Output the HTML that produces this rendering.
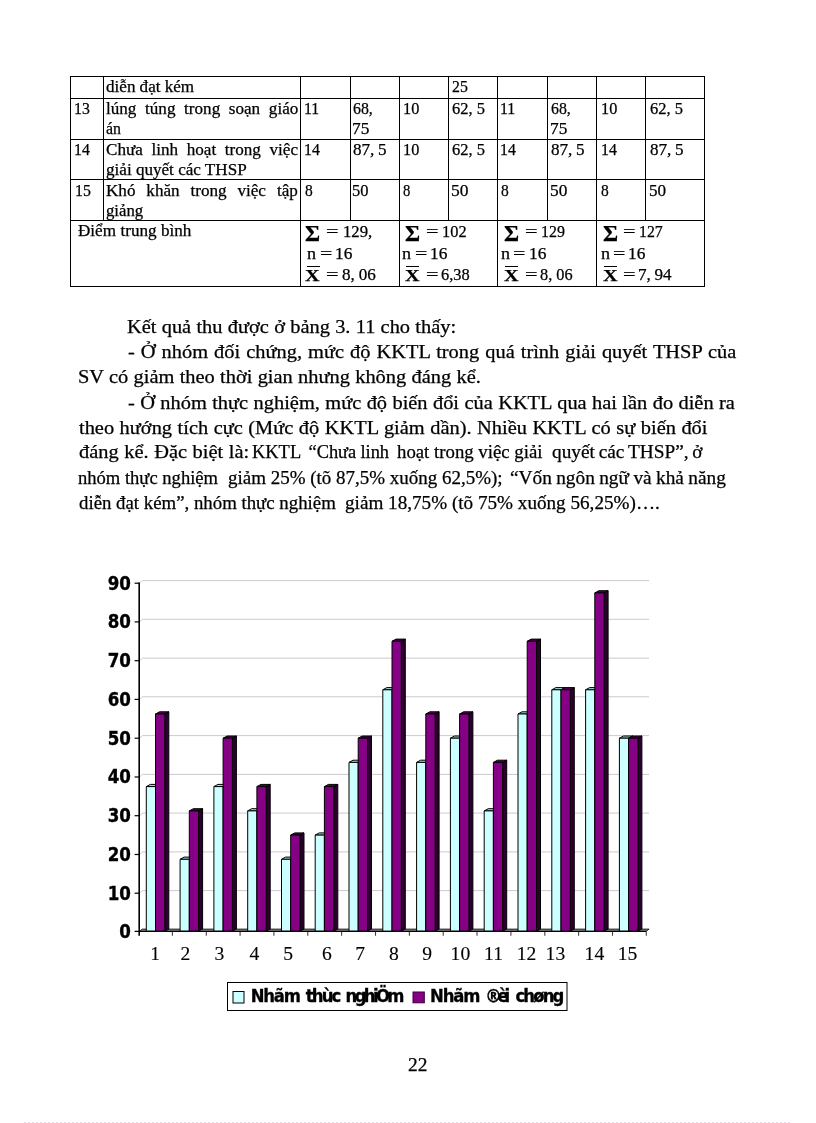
<!DOCTYPE html>
<html lang="vi">
<head>
<meta charset="utf-8">
<title>Trang 22</title>
<style>
html,body{margin:0;padding:0;background:#fff;}
body{width:816px;height:1123px;position:relative;overflow:hidden;font-family:"Liberation Serif", serif;color:#000;}
.t{position:absolute;white-space:pre;line-height:1;transform-origin:0 0;font-family:"Liberation Serif", serif;color:#000;-webkit-text-stroke:0.25px #000;}
.ln{position:absolute;background:#000;}
svg{position:absolute;left:0;top:0;}
</style>
</head>
<body>
<div id="tbl">
<div class="ln" style="left:70px;top:76px;width:635px;height:1px"></div>
<div class="ln" style="left:70px;top:98px;width:635px;height:1px"></div>
<div class="ln" style="left:70px;top:139px;width:635px;height:1px"></div>
<div class="ln" style="left:70px;top:179px;width:635px;height:1px"></div>
<div class="ln" style="left:70px;top:220px;width:635px;height:1px"></div>
<div class="ln" style="left:70px;top:286px;width:635px;height:1px"></div>
<div class="ln" style="left:70px;top:76px;width:1px;height:211px"></div>
<div class="ln" style="left:704px;top:76px;width:1px;height:211px"></div>
<div class="ln" style="left:103px;top:76px;width:1px;height:145px"></div>
<div class="ln" style="left:300px;top:76px;width:1px;height:211px"></div>
<div class="ln" style="left:399px;top:76px;width:1px;height:211px"></div>
<div class="ln" style="left:497px;top:76px;width:1px;height:211px"></div>
<div class="ln" style="left:596px;top:76px;width:1px;height:211px"></div>
<div class="ln" style="left:350px;top:76px;width:1px;height:145px"></div>
<div class="ln" style="left:448px;top:76px;width:1px;height:145px"></div>
<div class="ln" style="left:547px;top:76px;width:1px;height:145px"></div>
<div class="ln" style="left:645px;top:76px;width:1px;height:145px"></div>
<div class="ln" style="left:306.5px;top:266px;width:13.2px;height:1.2px"></div>
<div class="ln" style="left:406.1px;top:266px;width:13.2px;height:1.2px"></div>
<div class="ln" style="left:505.1px;top:266px;width:13.2px;height:1.2px"></div>
<div class="ln" style="left:604.0px;top:266px;width:13.2px;height:1.2px"></div>
</div>
<span class="t" style="left:106.00px;top:78.6px;font-size:16px;word-spacing:-0.09px;transform:scaleX(1.0680);">diễn đạt kém</span>
<span class="t" style="left:451.92px;top:78.6px;font-size:16px;transform:scaleX(0.9900);">25</span>
<span class="t" style="left:74.08px;top:100.5px;font-size:16px;transform:scaleX(0.9900);">13</span>
<span class="t" style="left:106.00px;top:100.5px;font-size:16px;word-spacing:4.12px;transform:scaleX(1.0680);">lúng túng trong soạn giáo</span>
<span class="t" style="left:105.90px;top:120.7px;font-size:16px;transform:scaleX(0.9900);">án</span>
<span class="t" style="left:304.09px;top:100.5px;font-size:16px;transform:scaleX(0.9900);">11</span>
<span class="t" style="left:352.87px;top:100.5px;font-size:16px;transform:scaleX(0.9900);">68,</span>
<span class="t" style="left:352.00px;top:120.7px;font-size:16px;transform:scaleX(1.0827);">75</span>
<span class="t" style="left:403.00px;top:100.5px;font-size:16px;transform:scaleX(1.0160);">10</span>
<span class="t" style="left:452.00px;top:100.5px;font-size:16px;transform:scaleX(1.0306);">62, 5</span>
<span class="t" style="left:499.59px;top:100.5px;font-size:16px;transform:scaleX(0.9900);">11</span>
<span class="t" style="left:550.87px;top:100.5px;font-size:16px;transform:scaleX(0.9900);">68,</span>
<span class="t" style="left:550.00px;top:120.7px;font-size:16px;transform:scaleX(1.0827);">75</span>
<span class="t" style="left:601.00px;top:100.5px;font-size:16px;transform:scaleX(1.0160);">10</span>
<span class="t" style="left:650.00px;top:100.5px;font-size:16px;transform:scaleX(1.0306);">62, 5</span>
<span class="t" style="left:74.09px;top:141.7px;font-size:16px;transform:scaleX(0.9900);">14</span>
<span class="t" style="left:106.00px;top:141.7px;font-size:16px;word-spacing:4.12px;transform:scaleX(1.0680);">Chưa linh hoạt trong việc</span>
<span class="t" style="left:106.00px;top:161.7px;font-size:16px;transform:scaleX(1.0680);">giải quyết các THSP</span>
<span class="t" style="left:304.00px;top:141.7px;font-size:16px;transform:scaleX(0.9900);">14</span>
<span class="t" style="left:353.00px;top:141.7px;font-size:16px;word-spacing:-0.56px;transform:scaleX(1.0680);">87, 5</span>
<span class="t" style="left:403.00px;top:141.7px;font-size:16px;transform:scaleX(1.0160);">10</span>
<span class="t" style="left:452.00px;top:141.7px;font-size:16px;transform:scaleX(1.0306);">62, 5</span>
<span class="t" style="left:499.50px;top:141.7px;font-size:16px;transform:scaleX(0.9900);">14</span>
<span class="t" style="left:551.00px;top:141.7px;font-size:16px;word-spacing:-0.56px;transform:scaleX(1.0680);">87, 5</span>
<span class="t" style="left:600.50px;top:141.7px;font-size:16px;transform:scaleX(0.9900);">14</span>
<span class="t" style="left:650.00px;top:141.7px;font-size:16px;word-spacing:-0.56px;transform:scaleX(1.0680);">87, 5</span>
<span class="t" style="left:75.00px;top:182.8px;font-size:16px;transform:scaleX(0.9900);">15</span>
<span class="t" style="left:106.00px;top:182.8px;font-size:16px;word-spacing:6.23px;transform:scaleX(1.0680);">Khó khăn trong việc tập</span>
<span class="t" style="left:106.00px;top:203.2px;font-size:16px;transform:scaleX(1.0458);">giảng</span>
<span class="t" style="left:304.50px;top:182.8px;font-size:16px;transform:scaleX(0.9671);">8</span>
<span class="t" style="left:352.00px;top:182.8px;font-size:16px;transform:scaleX(1.0295);">50</span>
<span class="t" style="left:403.00px;top:182.8px;font-size:16px;transform:scaleX(0.9152);">8</span>
<span class="t" style="left:451.34px;top:182.8px;font-size:16px;transform:scaleX(1.0900);">50</span>
<span class="t" style="left:501.00px;top:182.8px;font-size:16px;transform:scaleX(0.9671);">8</span>
<span class="t" style="left:550.00px;top:182.8px;font-size:16px;transform:scaleX(1.0827);">50</span>
<span class="t" style="left:601.00px;top:182.8px;font-size:16px;transform:scaleX(0.9671);">8</span>
<span class="t" style="left:649.00px;top:182.8px;font-size:16px;transform:scaleX(1.0680);">50</span>
<span class="t" style="left:77.50px;top:222.7px;font-size:16px;word-spacing:0.19px;transform:scaleX(1.0680);">Điểm trung bình</span>
<span class="t" style="left:305.00px;top:222.6px;font-size:22.5px;font-weight:bold;transform:scaleX(1.0275);">Σ</span>
<span class="t" style="left:325.50px;top:223.9px;font-size:16px;transform:scaleX(1.3844);">=</span>
<span class="t" style="left:342.50px;top:223.9px;font-size:16px;transform:scaleX(1.0456);">129,</span>
<span class="t" style="left:307.00px;top:245.8px;font-size:16px;transform:scaleX(1.1302);">n</span>
<span class="t" style="left:319.50px;top:245.8px;font-size:16px;transform:scaleX(1.3619);">=</span>
<span class="t" style="left:334.50px;top:245.8px;font-size:16px;transform:scaleX(1.0833);">16</span>
<span class="t" style="left:305.00px;top:268.1px;font-size:16.6px;font-weight:bold;transform:scaleX(1.2178);">X</span>
<span class="t" style="left:325.50px;top:267.0px;font-size:16px;transform:scaleX(1.3844);">=</span>
<span class="t" style="left:342.00px;top:267.0px;font-size:16px;word-spacing:-0.37px;transform:scaleX(1.0680);">8, 06</span>
<span class="t" style="left:405.00px;top:222.6px;font-size:22.5px;font-weight:bold;transform:scaleX(1.0275);">Σ</span>
<span class="t" style="left:425.50px;top:223.9px;font-size:16px;transform:scaleX(1.3844);">=</span>
<span class="t" style="left:441.50px;top:223.9px;font-size:16px;transform:scaleX(1.0244);">102</span>
<span class="t" style="left:402.00px;top:245.8px;font-size:16px;transform:scaleX(1.1302);">n</span>
<span class="t" style="left:414.50px;top:245.8px;font-size:16px;transform:scaleX(1.3619);">=</span>
<span class="t" style="left:429.50px;top:245.8px;font-size:16px;transform:scaleX(1.0833);">16</span>
<span class="t" style="left:405.00px;top:268.1px;font-size:16.6px;font-weight:bold;transform:scaleX(1.2178);">X</span>
<span class="t" style="left:425.50px;top:267.0px;font-size:16px;transform:scaleX(1.3844);">=</span>
<span class="t" style="left:441.00px;top:267.0px;font-size:16px;transform:scaleX(1.0245);">6,38</span>
<span class="t" style="left:504.00px;top:222.6px;font-size:22.5px;font-weight:bold;transform:scaleX(1.0275);">Σ</span>
<span class="t" style="left:524.50px;top:223.9px;font-size:16px;transform:scaleX(1.3844);">=</span>
<span class="t" style="left:540.50px;top:223.9px;font-size:16px;transform:scaleX(0.9975);">129</span>
<span class="t" style="left:500.50px;top:245.8px;font-size:16px;transform:scaleX(1.1302);">n</span>
<span class="t" style="left:513.00px;top:245.8px;font-size:16px;transform:scaleX(1.3619);">=</span>
<span class="t" style="left:529.00px;top:245.8px;font-size:16px;transform:scaleX(1.0833);">16</span>
<span class="t" style="left:504.00px;top:268.1px;font-size:16.6px;font-weight:bold;transform:scaleX(1.2178);">X</span>
<span class="t" style="left:524.50px;top:267.0px;font-size:16px;transform:scaleX(1.3844);">=</span>
<span class="t" style="left:540.00px;top:267.0px;font-size:16px;transform:scaleX(1.0178);">8, 06</span>
<span class="t" style="left:602.50px;top:222.6px;font-size:22.5px;font-weight:bold;transform:scaleX(1.0275);">Σ</span>
<span class="t" style="left:623.00px;top:223.9px;font-size:16px;transform:scaleX(1.3844);">=</span>
<span class="t" style="left:638.78px;top:223.9px;font-size:16px;transform:scaleX(0.9900);">127</span>
<span class="t" style="left:600.50px;top:245.8px;font-size:16px;transform:scaleX(1.1302);">n</span>
<span class="t" style="left:613.00px;top:245.8px;font-size:16px;transform:scaleX(1.3619);">=</span>
<span class="t" style="left:628.00px;top:245.8px;font-size:16px;transform:scaleX(1.0833);">16</span>
<span class="t" style="left:602.50px;top:268.1px;font-size:16.6px;font-weight:bold;transform:scaleX(1.2178);">X</span>
<span class="t" style="left:623.00px;top:267.0px;font-size:16px;transform:scaleX(1.3844);">=</span>
<span class="t" style="left:637.50px;top:267.0px;font-size:16px;word-spacing:-0.56px;transform:scaleX(1.0680);">7, 94</span>
<span class="t" style="left:127.00px;top:318.2px;font-size:18.4px;word-spacing:0.16px;transform:scaleX(1.1090);">Kết quả thu được ở bảng 3. 11 cho thấy:</span>
<span class="t" style="left:128.00px;top:342.5px;font-size:18.4px;word-spacing:0.85px;transform:scaleX(1.1090);">- Ở nhóm đối chứng, mức độ KKTL trong quá trình giải quyết THSP của</span>
<span class="t" style="left:77.50px;top:368.1px;font-size:18.4px;word-spacing:0.18px;transform:scaleX(1.1090);">SV có giảm theo thời gian nhưng không đáng kể.</span>
<span class="t" style="left:128.00px;top:393.6px;font-size:18.4px;word-spacing:0.28px;transform:scaleX(1.1090);">- Ở nhóm thực nghiệm, mức độ biến đổi của KKTL qua hai lần đo diễn ra</span>
<span class="t" style="left:78.50px;top:418.7px;font-size:18.4px;word-spacing:0.37px;transform:scaleX(1.1090);">theo hướng tích cực (Mức độ KKTL giảm dần). Nhiều KKTL có sự biến đổi</span>
<span class="t" style="left:78.50px;top:443.4px;font-size:18.4px;word-spacing:0.45px;transform:scaleX(1.1090);">đáng kể. Đặc biệt là:</span>
<span class="t" style="left:252.00px;top:443.4px;font-size:18.4px;transform:scaleX(1.0023);">KKTL</span>
<span class="t" style="left:308.50px;top:443.4px;font-size:18.4px;word-spacing:-0.40px;transform:scaleX(1.0000);">“Chưa linh</span>
<span class="t" style="left:396.50px;top:443.4px;font-size:18.4px;transform:scaleX(1.0211);">hoạt trong việc giải</span>
<span class="t" style="left:551.50px;top:443.4px;font-size:18.4px;word-spacing:-0.95px;transform:scaleX(1.0500);">quyết các THSP”, ở</span>
<span class="t" style="left:77.50px;top:469.0px;font-size:18.4px;transform:scaleX(1.0095);">nhóm thực nghiệm</span>
<span class="t" style="left:228.00px;top:469.0px;font-size:18.4px;transform:scaleX(1.0318);">giảm 25% (tõ 87,5% xuống 62,5%);</span>
<span class="t" style="left:509.50px;top:469.0px;font-size:18.4px;word-spacing:-0.42px;transform:scaleX(1.0500);">“Vốn ngôn ngữ và khả năng</span>
<span class="t" style="left:78.50px;top:494.1px;font-size:18.4px;transform:scaleX(1.0229);">diễn đạt kém”, nhóm thực nghiệm</span>
<span class="t" style="left:344.50px;top:494.1px;font-size:18.4px;transform:scaleX(1.0411);">giảm 18,75% (tõ 75% xuống 56,25%)….</span>
<span class="t" style="left:407.50px;top:1057.0px;font-size:17.9px;transform:scaleX(1.0868);">22</span>
<svg width="816" height="1123" viewBox="0 0 816 1123">
<g stroke="#d0c8d0" stroke-width="1" fill="none">
<path d="M139.7 893.2 L142.4 890.6 H649"/>
<path d="M139.7 854.5 L142.4 851.9 H649"/>
<path d="M139.7 815.7 L142.4 813.1 H649"/>
<path d="M139.7 777.0 L142.4 774.4 H649"/>
<path d="M139.7 738.2 L142.4 735.6 H649"/>
<path d="M139.7 699.4 L142.4 696.8 H649"/>
<path d="M139.7 660.7 L142.4 658.1 H649"/>
<path d="M139.7 621.9 L142.4 619.3 H649"/>
<path d="M139.7 583.2 L142.4 580.6 H649"/>
</g>
<path d="M139.2 931.4 L142.4 929.1 H649.1 L645.9 931.4 Z" fill="#909090" stroke="#000" stroke-width="0.8"/>
<g stroke="#000" stroke-width="1" stroke-linejoin="round">
<path d="M155.5 786.6 l4.0 -2.2 V929.0 l-4.0 2.2 Z" fill="#669999"/>
<path d="M146.3 786.6 l4.0 -2.2 h9.2 l-4.0 2.2 Z" fill="#a4d4d4"/>
<rect x="146.3" y="786.6" width="9.2" height="144.6" fill="#ccffff"/>
<path d="M164.8 714.0 l4.0 -2.2 V929.0 l-4.0 2.2 Z" fill="#2c002e"/>
<path d="M155.5 714.0 l4.0 -2.2 h9.3 l-4.0 2.2 Z" fill="#520052"/>
<rect x="155.5" y="714.0" width="9.3" height="217.2" fill="#860086"/>
<path d="M189.3 859.3 l4.0 -2.2 V929.0 l-4.0 2.2 Z" fill="#669999"/>
<path d="M180.1 859.3 l4.0 -2.2 h9.2 l-4.0 2.2 Z" fill="#a4d4d4"/>
<rect x="180.1" y="859.3" width="9.2" height="71.9" fill="#ccffff"/>
<path d="M198.6 810.9 l4.0 -2.2 V929.0 l-4.0 2.2 Z" fill="#2c002e"/>
<path d="M189.3 810.9 l4.0 -2.2 h9.3 l-4.0 2.2 Z" fill="#520052"/>
<rect x="189.3" y="810.9" width="9.3" height="120.3" fill="#860086"/>
<path d="M223.1 786.6 l4.0 -2.2 V929.0 l-4.0 2.2 Z" fill="#669999"/>
<path d="M213.9 786.6 l4.0 -2.2 h9.2 l-4.0 2.2 Z" fill="#a4d4d4"/>
<rect x="213.9" y="786.6" width="9.2" height="144.6" fill="#ccffff"/>
<path d="M232.4 738.2 l4.0 -2.2 V929.0 l-4.0 2.2 Z" fill="#2c002e"/>
<path d="M223.1 738.2 l4.0 -2.2 h9.3 l-4.0 2.2 Z" fill="#520052"/>
<rect x="223.1" y="738.2" width="9.3" height="193.0" fill="#860086"/>
<path d="M256.9 810.9 l4.0 -2.2 V929.0 l-4.0 2.2 Z" fill="#669999"/>
<path d="M247.7 810.9 l4.0 -2.2 h9.2 l-4.0 2.2 Z" fill="#a4d4d4"/>
<rect x="247.7" y="810.9" width="9.2" height="120.3" fill="#ccffff"/>
<path d="M266.2 786.6 l4.0 -2.2 V929.0 l-4.0 2.2 Z" fill="#2c002e"/>
<path d="M256.9 786.6 l4.0 -2.2 h9.3 l-4.0 2.2 Z" fill="#520052"/>
<rect x="256.9" y="786.6" width="9.3" height="144.6" fill="#860086"/>
<path d="M290.7 859.3 l4.0 -2.2 V929.0 l-4.0 2.2 Z" fill="#669999"/>
<path d="M281.5 859.3 l4.0 -2.2 h9.2 l-4.0 2.2 Z" fill="#a4d4d4"/>
<rect x="281.5" y="859.3" width="9.2" height="71.9" fill="#ccffff"/>
<path d="M300.0 835.1 l4.0 -2.2 V929.0 l-4.0 2.2 Z" fill="#2c002e"/>
<path d="M290.7 835.1 l4.0 -2.2 h9.3 l-4.0 2.2 Z" fill="#520052"/>
<rect x="290.7" y="835.1" width="9.3" height="96.1" fill="#860086"/>
<path d="M324.4 835.1 l4.0 -2.2 V929.0 l-4.0 2.2 Z" fill="#669999"/>
<path d="M315.2 835.1 l4.0 -2.2 h9.2 l-4.0 2.2 Z" fill="#a4d4d4"/>
<rect x="315.2" y="835.1" width="9.2" height="96.1" fill="#ccffff"/>
<path d="M333.8 786.6 l4.0 -2.2 V929.0 l-4.0 2.2 Z" fill="#2c002e"/>
<path d="M324.4 786.6 l4.0 -2.2 h9.3 l-4.0 2.2 Z" fill="#520052"/>
<rect x="324.4" y="786.6" width="9.3" height="144.6" fill="#860086"/>
<path d="M358.2 762.4 l4.0 -2.2 V929.0 l-4.0 2.2 Z" fill="#669999"/>
<path d="M349.0 762.4 l4.0 -2.2 h9.2 l-4.0 2.2 Z" fill="#a4d4d4"/>
<rect x="349.0" y="762.4" width="9.2" height="168.8" fill="#ccffff"/>
<path d="M367.5 738.2 l4.0 -2.2 V929.0 l-4.0 2.2 Z" fill="#2c002e"/>
<path d="M358.2 738.2 l4.0 -2.2 h9.3 l-4.0 2.2 Z" fill="#520052"/>
<rect x="358.2" y="738.2" width="9.3" height="193.0" fill="#860086"/>
<path d="M392.0 689.8 l4.0 -2.2 V929.0 l-4.0 2.2 Z" fill="#669999"/>
<path d="M382.8 689.8 l4.0 -2.2 h9.2 l-4.0 2.2 Z" fill="#a4d4d4"/>
<rect x="382.8" y="689.8" width="9.2" height="241.5" fill="#ccffff"/>
<path d="M401.3 641.3 l4.0 -2.2 V929.0 l-4.0 2.2 Z" fill="#2c002e"/>
<path d="M392.0 641.3 l4.0 -2.2 h9.3 l-4.0 2.2 Z" fill="#520052"/>
<rect x="392.0" y="641.3" width="9.3" height="289.9" fill="#860086"/>
<path d="M425.8 762.4 l4.0 -2.2 V929.0 l-4.0 2.2 Z" fill="#669999"/>
<path d="M416.6 762.4 l4.0 -2.2 h9.2 l-4.0 2.2 Z" fill="#a4d4d4"/>
<rect x="416.6" y="762.4" width="9.2" height="168.8" fill="#ccffff"/>
<path d="M435.1 714.0 l4.0 -2.2 V929.0 l-4.0 2.2 Z" fill="#2c002e"/>
<path d="M425.8 714.0 l4.0 -2.2 h9.3 l-4.0 2.2 Z" fill="#520052"/>
<rect x="425.8" y="714.0" width="9.3" height="217.2" fill="#860086"/>
<path d="M459.6 738.2 l4.0 -2.2 V929.0 l-4.0 2.2 Z" fill="#669999"/>
<path d="M450.4 738.2 l4.0 -2.2 h9.2 l-4.0 2.2 Z" fill="#a4d4d4"/>
<rect x="450.4" y="738.2" width="9.2" height="193.0" fill="#ccffff"/>
<path d="M468.9 714.0 l4.0 -2.2 V929.0 l-4.0 2.2 Z" fill="#2c002e"/>
<path d="M459.6 714.0 l4.0 -2.2 h9.3 l-4.0 2.2 Z" fill="#520052"/>
<rect x="459.6" y="714.0" width="9.3" height="217.2" fill="#860086"/>
<path d="M493.4 810.9 l4.0 -2.2 V929.0 l-4.0 2.2 Z" fill="#669999"/>
<path d="M484.2 810.9 l4.0 -2.2 h9.2 l-4.0 2.2 Z" fill="#a4d4d4"/>
<rect x="484.2" y="810.9" width="9.2" height="120.3" fill="#ccffff"/>
<path d="M502.7 762.4 l4.0 -2.2 V929.0 l-4.0 2.2 Z" fill="#2c002e"/>
<path d="M493.4 762.4 l4.0 -2.2 h9.3 l-4.0 2.2 Z" fill="#520052"/>
<rect x="493.4" y="762.4" width="9.3" height="168.8" fill="#860086"/>
<path d="M527.2 714.0 l4.0 -2.2 V929.0 l-4.0 2.2 Z" fill="#669999"/>
<path d="M518.0 714.0 l4.0 -2.2 h9.2 l-4.0 2.2 Z" fill="#a4d4d4"/>
<rect x="518.0" y="714.0" width="9.2" height="217.2" fill="#ccffff"/>
<path d="M536.5 641.3 l4.0 -2.2 V929.0 l-4.0 2.2 Z" fill="#2c002e"/>
<path d="M527.2 641.3 l4.0 -2.2 h9.3 l-4.0 2.2 Z" fill="#520052"/>
<rect x="527.2" y="641.3" width="9.3" height="289.9" fill="#860086"/>
<path d="M561.0 689.8 l4.0 -2.2 V929.0 l-4.0 2.2 Z" fill="#669999"/>
<path d="M551.8 689.8 l4.0 -2.2 h9.2 l-4.0 2.2 Z" fill="#a4d4d4"/>
<rect x="551.8" y="689.8" width="9.2" height="241.5" fill="#ccffff"/>
<path d="M570.3 689.8 l4.0 -2.2 V929.0 l-4.0 2.2 Z" fill="#2c002e"/>
<path d="M561.0 689.8 l4.0 -2.2 h9.3 l-4.0 2.2 Z" fill="#520052"/>
<rect x="561.0" y="689.8" width="9.3" height="241.5" fill="#860086"/>
<path d="M594.8 689.8 l4.0 -2.2 V929.0 l-4.0 2.2 Z" fill="#669999"/>
<path d="M585.6 689.8 l4.0 -2.2 h9.2 l-4.0 2.2 Z" fill="#a4d4d4"/>
<rect x="585.6" y="689.8" width="9.2" height="241.5" fill="#ccffff"/>
<path d="M604.1 592.9 l4.0 -2.2 V929.0 l-4.0 2.2 Z" fill="#2c002e"/>
<path d="M594.8 592.9 l4.0 -2.2 h9.3 l-4.0 2.2 Z" fill="#520052"/>
<rect x="594.8" y="592.9" width="9.3" height="338.4" fill="#860086"/>
<path d="M628.6 738.2 l4.0 -2.2 V929.0 l-4.0 2.2 Z" fill="#669999"/>
<path d="M619.4 738.2 l4.0 -2.2 h9.2 l-4.0 2.2 Z" fill="#a4d4d4"/>
<rect x="619.4" y="738.2" width="9.2" height="193.0" fill="#ccffff"/>
<path d="M637.9 738.2 l4.0 -2.2 V929.0 l-4.0 2.2 Z" fill="#2c002e"/>
<path d="M628.6 738.2 l4.0 -2.2 h9.3 l-4.0 2.2 Z" fill="#520052"/>
<rect x="628.6" y="738.2" width="9.3" height="193.0" fill="#860086"/>
</g>
<path d="M139.2 582.5 V935.8" stroke="#000" stroke-width="1.6" fill="none"/>
<path d="M134.6 931.4 H646.4" stroke="#000" stroke-width="1.4" fill="none"/>
<g stroke="#000" stroke-width="1.2" fill="none">
<path d="M134.6 893.2 H139.2"/>
<path d="M134.6 854.5 H139.2"/>
<path d="M134.6 815.7 H139.2"/>
<path d="M134.6 777.0 H139.2"/>
<path d="M134.6 738.2 H139.2"/>
<path d="M134.6 699.4 H139.2"/>
<path d="M134.6 660.7 H139.2"/>
<path d="M134.6 621.9 H139.2"/>
<path d="M134.6 583.2 H139.2"/>
</g>
<g stroke="#444" stroke-width="1.1" fill="none">
<path d="M172.4 931.9 V935.8"/>
<path d="M206.3 931.9 V935.8"/>
<path d="M240.1 931.9 V935.8"/>
<path d="M273.9 931.9 V935.8"/>
<path d="M307.8 931.9 V935.8"/>
<path d="M341.6 931.9 V935.8"/>
<path d="M375.5 931.9 V935.8"/>
<path d="M409.4 931.9 V935.8"/>
<path d="M443.2 931.9 V935.8"/>
<path d="M477.0 931.9 V935.8"/>
<path d="M510.9 931.9 V935.8"/>
<path d="M544.8 931.9 V935.8"/>
<path d="M578.6 931.9 V935.8"/>
<path d="M612.5 931.9 V935.8"/>
<path d="M646.3 931.9 V935.8"/>
</g>
<g font-family="'DejaVu Sans Condensed', 'DejaVu Sans', 'Liberation Sans', sans-serif" font-weight="bold" font-size="19.4" fill="#000" stroke="#000" stroke-width="0.35">
<text x="119.3" y="938.3" textLength="11.6" lengthAdjust="spacingAndGlyphs">0</text>
<text x="107.7" y="899.5" textLength="23.2" lengthAdjust="spacingAndGlyphs">10</text>
<text x="107.7" y="860.8" textLength="23.2" lengthAdjust="spacingAndGlyphs">20</text>
<text x="107.7" y="822.0" textLength="23.2" lengthAdjust="spacingAndGlyphs">30</text>
<text x="107.7" y="783.3" textLength="23.2" lengthAdjust="spacingAndGlyphs">40</text>
<text x="107.7" y="744.5" textLength="23.2" lengthAdjust="spacingAndGlyphs">50</text>
<text x="107.7" y="705.7" textLength="23.2" lengthAdjust="spacingAndGlyphs">60</text>
<text x="107.7" y="667.0" textLength="23.2" lengthAdjust="spacingAndGlyphs">70</text>
<text x="107.7" y="628.2" textLength="23.2" lengthAdjust="spacingAndGlyphs">80</text>
<text x="107.7" y="589.5" textLength="23.2" lengthAdjust="spacingAndGlyphs">90</text>
</g>
<g font-family="'Liberation Serif', serif" font-size="18" fill="#000" stroke="#000" stroke-width="0.12" text-anchor="middle">
<text transform="translate(155.1 959.7) scale(1.09 1)">1</text>
<text transform="translate(185.5 959.7) scale(1.09 1)">2</text>
<text transform="translate(219.3 959.7) scale(1.09 1)">3</text>
<text transform="translate(254.3 959.7) scale(1.09 1)">4</text>
<text transform="translate(288.1 959.7) scale(1.09 1)">5</text>
<text transform="translate(326.8 959.7) scale(1.09 1)">6</text>
<text transform="translate(360.2 959.7) scale(1.09 1)">7</text>
<text transform="translate(393.8 959.7) scale(1.09 1)">8</text>
<text transform="translate(427.2 959.7) scale(1.09 1)">9</text>
<text transform="translate(460.4 959.7) scale(1.09 1)">10</text>
<text transform="translate(493.5 959.7) scale(1.09 1)">11</text>
<text transform="translate(526.6 959.7) scale(1.09 1)">12</text>
<text transform="translate(555.4 959.7) scale(1.09 1)">13</text>
<text transform="translate(594.4 959.7) scale(1.09 1)">14</text>
<text transform="translate(627.5 959.7) scale(1.09 1)">15</text>
</g>
<rect x="227.5" y="982.5" width="339.5" height="28" fill="#fff" stroke="#000" stroke-width="1"/>
<rect x="233" y="991.5" width="11" height="11.5" fill="#ccffff" stroke="#000" stroke-width="1"/>
<rect x="413" y="992" width="11.3" height="10.8" fill="#860086" stroke="#3a003a" stroke-width="1"/>
<g font-family="'DejaVu Sans Condensed', 'DejaVu Sans', 'Liberation Sans', sans-serif" font-weight="bold" font-size="18.3" fill="#000" stroke="#000" stroke-width="0.3">
<text x="250.8" y="1002.4" textLength="50.0" lengthAdjust="spacing">Nhãm</text>
<text x="305.8" y="1002.4" textLength="35.5" lengthAdjust="spacing">thùc</text>
<text x="345.6" y="1002.4" textLength="58.8" lengthAdjust="spacing">nghiÖm</text>
<text x="430" y="1002.4" textLength="50.4" lengthAdjust="spacing">Nhãm</text>
<text x="485.2" y="1002.4" textLength="25.0" lengthAdjust="spacing">®èi</text>
<text x="515.4" y="1002.4" textLength="49.0" lengthAdjust="spacing">chøng</text>
</g>
<path d="M24 1122.5 H792" stroke="#e4dce4" stroke-width="1" stroke-dasharray="2 2" fill="none"/>
</svg>
</body>
</html>
